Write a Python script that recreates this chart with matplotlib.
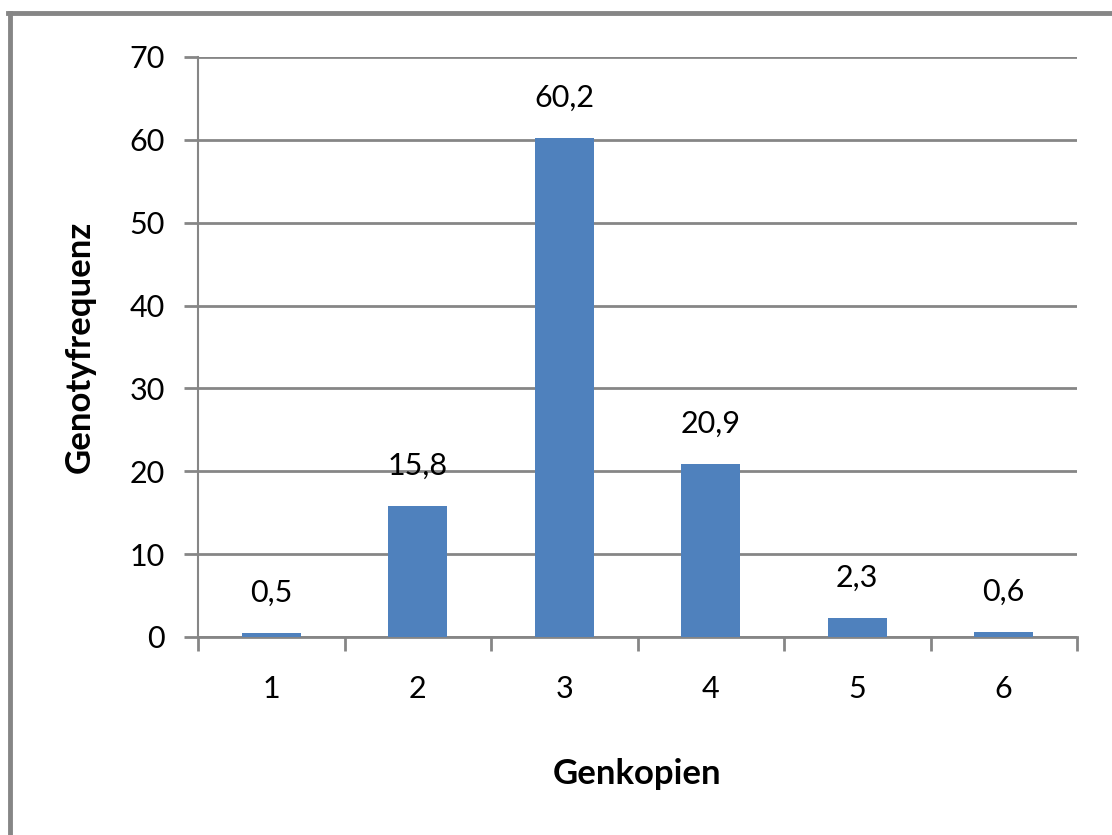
import matplotlib.pyplot as plt
import numpy as np

categories = ["1", "2", "3", "4", "5", "6"]
values = [0.5, 15.8, 60.2, 20.9, 2.3, 0.6]
value_labels = ["0,5", "15,8", "60,2", "20,9", "2,3", "0,6"]
y_ticks = [0, 10, 20, 30, 40, 50, 60, 70]

plt.rcParams["font.family"] = ["Lato", "DejaVu Sans"]

GRID = "#868686"
BAR = "#4F81BD"

fig = plt.figure(figsize=(11.12, 8.35), dpi=100)
ax = fig.add_axes([198 / 1112, 1 - 637 / 835, (1077 - 198) / 1112, (637 - 57) / 835])

x = np.arange(len(categories))
ax.bar(x, values, width=0.4, color=BAR, zorder=3)

for xi, v, lab in zip(x, values, value_labels):
    ax.annotate(lab, (xi, v), xytext=(0, 19), textcoords="offset points",
                ha="center", va="bottom", fontsize=22)

ax.set_xlim(-0.5, len(categories) - 0.5)
ax.set_ylim(0, 70)
ax.set_yticks(y_ticks)
ax.set_yticklabels([str(t) for t in y_ticks], fontsize=22)
ax.yaxis.grid(True, color=GRID, linewidth=2, zorder=0)
ax.tick_params(axis="y", length=10, width=2, color=GRID, pad=14)

ax.set_xticks(x)
ax.set_xticklabels(categories, fontsize=22)
ax.set_xticks(np.arange(-0.5, len(categories)), minor=True)
ax.tick_params(axis="x", which="major", length=0, pad=27)
ax.tick_params(axis="x", which="minor", length=10, width=2, color=GRID)

for side in ["top", "right"]:
    ax.spines[side].set_visible(False)
ax.spines["left"].set_color(GRID)
ax.spines["left"].set_linewidth(1.5)
ax.spines["bottom"].set_color(GRID)
ax.spines["bottom"].set_linewidth(2)

ax.set_ylabel("Genotyfrequenz", fontsize=25, fontweight="bold", labelpad=24)
ax.set_xlabel("Genkopien", fontsize=25, fontweight="bold", labelpad=40)

# outer frame (only left and top edges visible in the crop)
fig.add_artist(plt.Line2D([9.5 / 1112, 9.5 / 1112], [0, 1 - 13 / 835],
                          transform=fig.transFigure, color=GRID, linewidth=3.5))
fig.add_artist(plt.Line2D([8 / 1112, 1], [1 - 13 / 835, 1 - 13 / 835],
                          transform=fig.transFigure, color=GRID, linewidth=3.5))

fig.savefig("out.png", dpi=100)
